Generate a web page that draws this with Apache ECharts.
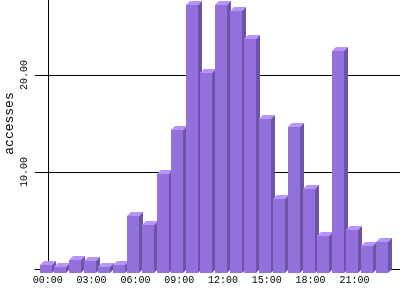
<!DOCTYPE html>
<html>
<head>
<meta charset="utf-8">
<script src="https://cdn.jsdelivr.net/npm/echarts@6/dist/echarts.min.js"></script>
<style>
html,body{margin:0;padding:0;background:#fff;}
#chart{width:400px;height:300px;}
</style>
</head>
<body>
<div id="chart"></div>
<script>
// Hours (categories)
const hours = ['00:00','01:00','02:00','03:00','04:00','05:00','06:00','07:00','08:00','09:00','10:00','11:00',
               '12:00','13:00','14:00','15:00','16:00','17:00','18:00','19:00','20:00','21:00','22:00','23:00'];
// Accesses per hour
const accesses = [0.8,0.6,1.3,1.2,0.6,0.8,5.9,4.9,10.2,14.7,27.6,20.6,
                  27.6,27.0,24.1,15.9,7.6,15.1,8.7,3.8,22.9,4.4,2.8,3.2];
// Tick labels
const xLabelIdx = [0,3,6,9,12,15,18,21];
const yLabelVals = [10,20];

const FRONT = '#9370DB', TOP = '#B894F8', SIDE = '#6C54A8';

function renderItem(params, api) {
  const x = api.value(0), v = api.value(1);
  const top = api.coord([x, v]);
  const base = api.coord([x, 0]);
  const d = 4, w = 12;
  const fl = Math.round(top[0]) - 8, fr = fl + w;
  const fTop = Math.round(top[1]) + d, fBot = Math.round(base[1]) + d;
  return {type:'group', children:[
    {type:'rect', shape:{x:fl, y:fTop, width:w, height:fBot-fTop}, style:{fill:FRONT}},
    {type:'polygon', shape:{points:[[fl,fTop],[fr,fTop],[fr+d,fTop-d],[fl+d,fTop-d]]}, style:{fill:TOP}},
    {type:'polygon', shape:{points:[[fr,fTop],[fr+d,fTop-d],[fr+d,fBot-d],[fr,fBot]]}, style:{fill:SIDE}}
  ]};
}

const chart = echarts.init(document.getElementById('chart'), null, {renderer:'canvas'});
chart.setOption({
  animation:false,
  backgroundColor:'#fff',
  grid:{left:35, right:0, top:-22, bottom:31, containLabel:false, outerBoundsMode:'none'},
  xAxis:{
    type:'value', min:-0.877, max:24.123,
    splitLine:{show:false},
    axisLine:{show:true, onZero:false, lineStyle:{color:'#000', width:1}},
    axisTick:{show:false},
    axisLabel:{
      customValues:xLabelIdx,
      formatter:(val)=>hours[Math.round(val)] || '',
      fontFamily:'Liberation Mono', fontSize:10, color:'#000', margin:6
    }
  },
  yAxis:{
    type:'value', min:0, max:30, interval:10,
    name:'accesses', nameLocation:'middle', nameGap:19, nameRotate:90, nameMoveOverlap:false,
    nameTextStyle:{fontFamily:'Liberation Mono', fontSize:13, color:'#000'},
    axisLine:{show:true, lineStyle:{color:'#000', width:1}},
    axisTick:{show:false},
    splitLine:{show:true, lineStyle:{color:'#000', width:1}},
    axisLabel:{
      customValues:yLabelVals,
      rotate:90,
      formatter:(val)=>val.toFixed(2),
      fontFamily:'Liberation Mono', fontSize:10, color:'#000', margin:6
    }
  },
  series:[{
    type:'custom',
    renderItem:renderItem,
    data:accesses.map((v,i)=>[i,v]),
    clip:false
  }]
});
</script>
</body>
</html>
